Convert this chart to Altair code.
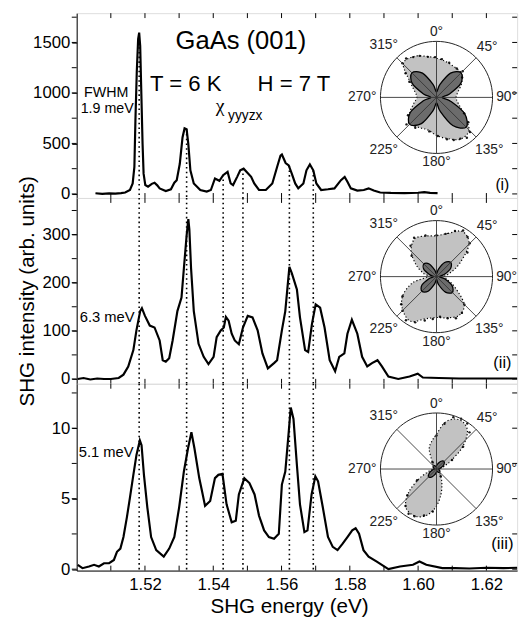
import altair as alt
import pandas as pd

# ---------------- data ----------------
# Panel (i) spectrum
E1 = [1.5055, 1.5075, 1.5095, 1.5113, 1.5130, 1.5142, 1.5156, 1.5164, 1.5169, 1.5172,
      1.5176, 1.5180, 1.5183, 1.5186, 1.5189, 1.5193, 1.5196, 1.5201, 1.5209, 1.5220,
      1.5228, 1.5236, 1.5243, 1.5261, 1.5276, 1.5286, 1.5293, 1.5302, 1.5310, 1.5316,
      1.5322, 1.5327, 1.5333, 1.5343, 1.5362, 1.5381, 1.5393, 1.5405, 1.5418, 1.5429,
      1.5442, 1.5451, 1.5458, 1.5470, 1.5479, 1.5489, 1.5498, 1.5511, 1.5520, 1.5534,
      1.5554, 1.5573, 1.5587, 1.5597, 1.5601, 1.5612, 1.5621, 1.5630, 1.5640, 1.5649,
      1.5664, 1.5673, 1.5683, 1.5693, 1.5702, 1.5716, 1.5736, 1.5755, 1.5774, 1.5785,
      1.5793, 1.5803, 1.5822, 1.5841, 1.5855, 1.5870, 1.5889, 1.5920, 1.5960, 1.6000,
      1.6018, 1.6035, 1.6057]
I1 = [7, 0, 6, 3, 8, 14, 39, 104, 267, 721,
      1207, 1532, 1597, 1467, 1046, 494, 201, 88, 72, 100,
      111, 85, 55, 29, 46, 111, 136, 299, 559, 649,
      640, 494, 234, 104, 39, 23, 39, 153, 130, 185,
      218, 104, 88, 169, 234, 250, 218, 169, 104, 40,
      39, 104, 267, 380, 390, 306, 283, 202, 104, 55,
      104, 234, 292, 234, 104, 39, 46, 55, 136, 169,
      121, 55, 33, 39, 55, 33, 14, 10, 8, 12,
      18, 10, 8]

# Panel (ii) spectrum
E2 = [1.5003, 1.5020, 1.5040, 1.5060, 1.5080, 1.5100, 1.5123, 1.5137, 1.5151, 1.5166,
      1.5175, 1.5186, 1.5191, 1.5200, 1.5214, 1.5228, 1.5243, 1.5252, 1.5261, 1.5271,
      1.5281, 1.5295, 1.5307, 1.5314, 1.5322, 1.5327, 1.5330, 1.5335, 1.5343, 1.5357,
      1.5372, 1.5386, 1.5401, 1.5410, 1.5422, 1.5431, 1.5437, 1.5445, 1.5454, 1.5463,
      1.5475, 1.5487, 1.5501, 1.5515, 1.5530, 1.5544, 1.5560, 1.5578, 1.5587, 1.5601,
      1.5611, 1.5623, 1.5630, 1.5645, 1.5654, 1.5669, 1.5678, 1.5689, 1.5700, 1.5713,
      1.5726, 1.5741, 1.5757, 1.5769, 1.5784, 1.5793, 1.5806, 1.5822, 1.5836, 1.5851,
      1.5865, 1.5881, 1.5894, 1.5913, 1.5942, 1.5975, 1.5999, 1.6014, 1.6061, 1.6120,
      1.6205, 1.6290]
I2 = [0, 2, -1, 1, 0, 0, 2, 9, 26, 60,
      101, 141, 147, 131, 111, 107, 80, 39, 36, 43,
      80, 141, 169, 230, 298, 332, 311, 230, 141, 73,
      46, 31, 46, 87, 101, 107, 129, 121, 94, 80,
      72, 107, 131, 128, 101, 53, 22, 33, 39, 101,
      141, 233, 220, 186, 128, 60, 56, 114, 155, 148,
      107, 39, 16, 46, 53, 94, 123, 94, 46, 26,
      33, 39, 26, 5, 0, 5, 11, 3, 2, 1,
      1, 1]

# Panel (iii) spectrum
E3 = [1.5003, 1.5017, 1.5036, 1.5051, 1.5065, 1.5080, 1.5095, 1.5109, 1.5118, 1.5128,
      1.5137, 1.5147, 1.5156, 1.5166, 1.5175, 1.5185, 1.5190, 1.5197, 1.5207, 1.5218,
      1.5233, 1.5255, 1.5271, 1.5286, 1.5300, 1.5314, 1.5326, 1.5336, 1.5345, 1.5359,
      1.5367, 1.5376, 1.5391, 1.5405, 1.5415, 1.5427, 1.5439, 1.5454, 1.5466, 1.5475,
      1.5491, 1.5506, 1.5521, 1.5534, 1.5549, 1.5563, 1.5578, 1.5592, 1.5601, 1.5611,
      1.5621, 1.5627, 1.5635, 1.5645, 1.5654, 1.5667, 1.5676, 1.5688, 1.5699, 1.5707,
      1.5721, 1.5736, 1.5750, 1.5764, 1.5779, 1.5793, 1.5807, 1.5817, 1.5827, 1.5840,
      1.5855, 1.5879, 1.5913, 1.5947, 1.5985, 1.6004, 1.6024, 1.6071, 1.6109, 1.6150,
      1.6200, 1.6250, 1.6290]
I3 = [0.30, 0.07, 0.19, 0.31, 0.19, 0.42, 0.42, 0.65, 1.23, 1.46,
      2.28, 3.67, 5.07, 6.69, 8.09, 9.13, 8.79, 6.69, 4.37, 2.28,
      1.35, 0.89, 1.46, 2.28, 4.37, 6.93, 8.56, 9.72, 8.56, 6.46,
      5.54, 4.49, 4.84, 6.46, 6.69, 6.76, 4.60, 3.33, 3.44, 5.30,
      6.46, 6.11, 5.30, 3.80, 2.75, 2.28, 2.16, 2.51, 6.00, 6.93,
      9.72, 11.46, 10.65, 7.39, 4.60, 2.63, 2.75, 5.30, 6.58, 6.23,
      4.37, 2.28, 1.58, 1.35, 1.81, 2.28, 2.75, 2.90, 2.51, 1.35,
      0.89, 0.54, 0.00, 0.19, 0.31, 0.54, 0.31, 0.07, 0.07, 0.05,
      0.10, 0.07, 0.10]

# dotted reference lines (energies) and how high they reach in panel (i)
dotted_E = [1.5183, 1.5322, 1.5429, 1.5487, 1.5623, 1.5693]
dotted_top_i = [1500, 640, 190, 250, 280, 234]

# axis ticks / labels
x_minor = [1.51, 1.52, 1.53, 1.54, 1.55, 1.56, 1.57, 1.58, 1.59, 1.60, 1.61, 1.62]
x_labels = [1.52, 1.54, 1.56, 1.58, 1.60, 1.62]
y_ticks_i = [0, 250, 500, 750, 1000, 1250, 1500, 1750]
y_labels_i = [0, 500, 1000, 1500]
y_ticks_ii = [0, 50, 100, 150, 200, 250, 300, 350]
y_labels_ii = [0, 100, 200, 300]
y_ticks_iii = [0, 2.5, 5, 7.5, 10, 12.5]
y_labels_iii = [0, 5, 10]

# polar insets: angle (deg, clockwise from top) and relative radius
ang15 = [0, 15, 30, 45, 60, 75, 90, 105, 120, 135, 150, 165,
         180, 195, 210, 225, 240, 255, 270, 285, 300, 315, 330, 345]
light_i = [0.70, 0.66, 0.63, 0.62, 0.52, 0.40, 0.35, 0.40, 0.55, 0.82, 0.86, 0.76,
           0.68, 0.60, 0.62, 0.66, 0.55, 0.42, 0.35, 0.40, 0.54, 0.84, 0.84, 0.76]
dark_i = [0.10, 0.24, 0.50, 0.62, 0.50, 0.24, 0.10, 0.26, 0.58, 0.75, 0.58, 0.26,
          0.10, 0.25, 0.54, 0.68, 0.54, 0.25, 0.10, 0.24, 0.50, 0.62, 0.50, 0.24]
pts_i_a = [300, 308, 315, 322, 330, 338, 348, 358, 8, 20, 35, 45, 52,
           120, 128, 136, 143, 150, 158, 166, 178, 192, 215, 228, 238]
pts_i_r = [0.56, 0.70, 0.86, 0.88, 0.83, 0.80, 0.74, 0.72, 0.69, 0.66, 0.63, 0.66, 0.58,
           0.57, 0.72, 0.86, 0.90, 0.85, 0.82, 0.77, 0.69, 0.62, 0.66, 0.72, 0.60]

light_ii = [0.73, 0.80, 0.93, 0.82, 0.48, 0.25, 0.14, 0.20, 0.38, 0.70, 0.80, 0.76,
            0.73, 0.78, 0.92, 0.85, 0.70, 0.45, 0.16, 0.25, 0.42, 0.64, 0.78, 0.75]
dark_ii = [0.05, 0.14, 0.29, 0.36, 0.29, 0.14, 0.05, 0.15, 0.32, 0.40, 0.32, 0.15,
           0.05, 0.14, 0.30, 0.37, 0.30, 0.14, 0.05, 0.12, 0.26, 0.32, 0.26, 0.12]
pts_ii_a = [310, 320, 330, 345, 0, 12, 22, 30, 38, 45, 52,
            135, 145, 155, 165, 175, 185, 195, 205, 215, 225, 232, 240]
pts_ii_r = [0.58, 0.72, 0.80, 0.76, 0.74, 0.78, 0.88, 0.95, 0.90, 0.84, 0.70,
            0.70, 0.79, 0.82, 0.77, 0.72, 0.76, 0.81, 0.90, 0.95, 0.86, 0.80, 0.70]

ang10 = list(range(0, 360, 10))
light_iii = [0.62, 0.84, 0.95, 0.96, 0.86, 0.60, 0.30, 0.15, 0.08, 0.06, 0.05, 0.05,
             0.05, 0.06, 0.09, 0.16, 0.28, 0.46, 0.66, 0.82, 0.91, 0.92, 0.86, 0.65,
             0.38, 0.18, 0.09, 0.06, 0.05, 0.05, 0.05, 0.06, 0.09, 0.16, 0.38, 0.50]
dark_iii = [0.06, 0.10, 0.16, 0.19, 0.15, 0.08, 0.04, 0.05, 0.07, 0.08, 0.07, 0.05,
            0.05, 0.10, 0.16, 0.20, 0.15, 0.08, 0.04, 0.05, 0.07, 0.08, 0.07, 0.05]
pts_iii_a = [0, 10, 18, 26, 34, 42, 50, 60, 185, 195, 205, 212, 220, 228, 240, 150, 330]
pts_iii_r = [0.60, 0.82, 0.97, 1.00, 0.98, 0.88, 0.62, 0.32, 0.76, 0.86, 0.93, 0.94, 0.86,
             0.70, 0.40, 0.15, 0.14]

grid_angles = [0, 45, 90, 135]
label_angles = [0, 45, 90, 135, 180, 225, 270, 315]
label_texts = ["0°", "45°", "90°", "135°", "180°", "225°", "270°", "315°"]

# ---------------- layout / style ----------------
W = 448
H = [188, 189, 190]
XDOM = [1.5, 1.629]
YDOM = [[-40, 1790], [-10, 376], [-0.1, 13.15]]
CX, R = 366, 57
CY = [85.7, 80, 86.7]
FONT = "Liberation Sans"
LIGHT = "#c2c2c2"
DARK = "#6c6c6c"


def txt(s, x, y, size, align="center", font=FONT):
    return alt.Chart(pd.DataFrame({"k": [0]})).mark_text(
        text=s, align=align, baseline="alphabetic", fontSize=size, font=font, color="black"
    ).encode(x=alt.value(x), y=alt.value(y))


def spectrum(k, E, I, yticks, ylabels, ytitle=None, bottom=False, dotted_top=None):
    h = H[k]
    xs = alt.Scale(domain=XDOM, nice=False, zero=False)
    ys = alt.Scale(domain=YDOM[k], nice=False, zero=False)
    if bottom:
        xaxis = alt.Axis(values=x_labels, format=".2f", ticks=False, tickSize=0, labelPadding=6,
                         labelFontSize=17, labelFont=FONT, labelColor="black", domainColor="black",
                         grid=False, title="SHG energy (eV)", titleFontSize=21, titleFont=FONT,
                         titleFontWeight="normal", titleColor="black", titleX=216, titleY=43,
                         titleBaseline="alphabetic")
    else:
        xaxis = None
    ykw = dict(values=ylabels, format=".5~g", tickSize=5, tickColor="black", domainColor="black",
               labelFontSize=17, labelFont=FONT, labelColor="black", labelPadding=2, grid=False)
    if ytitle:
        ykw.update(title=ytitle, titleX=-44, titleY=h / 2, titleAngle=270, titleAlign="center",
                   titleBaseline="alphabetic", titleFontSize=21, titleFont=FONT,
                   titleFontWeight="normal", titleColor="black")
    else:
        ykw["title"] = None

    line = alt.Chart(pd.DataFrame({"E": E, "I": I})).mark_line(
        color="black", strokeWidth=2.2
    ).encode(x=alt.X("E:Q", scale=xs, axis=xaxis), y=alt.Y("I:Q", scale=ys, axis=alt.Axis(**ykw)))

    if dotted_top is not None:
        dots = alt.Chart(pd.DataFrame({"E": dotted_E, "top": dotted_top})).mark_rule(
            color="black", strokeWidth=1.6, strokeDash=[1.6, 3.2]
        ).encode(x=alt.X("E:Q", scale=xs, axis=None), y=alt.Y("top:Q", scale=ys, axis=None),
                 y2=alt.value(h))
    else:
        dots = alt.Chart(pd.DataFrame({"E": dotted_E})).mark_rule(
            color="black", strokeWidth=1.6, strokeDash=[1.6, 3.2]
        ).encode(x=alt.X("E:Q", scale=xs, axis=None), y=alt.value(0), y2=alt.value(h))

    xt = pd.DataFrame({"E": x_minor})
    tick_b = alt.Chart(xt).mark_rule(color="black", strokeWidth=1).encode(
        x=alt.X("E:Q", scale=xs, axis=None), y=alt.value(h - 5), y2=alt.value(h))
    tick_t = alt.Chart(xt).mark_rule(color="black", strokeWidth=1).encode(
        x=alt.X("E:Q", scale=xs, axis=None), y=alt.value(0), y2=alt.value(5))
    yt = pd.DataFrame({"v": yticks})
    tick_r = alt.Chart(yt).mark_rule(color="black", strokeWidth=1).encode(
        y=alt.Y("v:Q", scale=ys, axis=None), x=alt.value(W - 5), x2=alt.value(W))
    tick_l = alt.Chart(yt).mark_rule(color="black", strokeWidth=1).encode(
        y=alt.Y("v:Q", scale=ys, axis=None), x=alt.value(-5), x2=alt.value(0))

    return [line, dots, tick_b, tick_t, tick_r, tick_l]


def polar(k, ang_l, light, ang_d, dark, pa, pr):
    h = H[k]
    cy = CY[k]
    xs = alt.Scale(domain=[-CX / R, (W - CX) / R], nice=False, zero=False)
    ys = alt.Scale(domain=[-(h - cy) / R, cy / R], nice=False, zero=False)
    enc = dict(x=alt.X("px:Q", scale=xs, axis=None), y=alt.Y("py:Q", scale=ys, axis=None))
    calc = dict(px="datum.r*sin(datum.a*PI/180)", py="datum.r*cos(datum.a*PI/180)")

    light_m = alt.Chart(pd.DataFrame({"a": ang_l, "r": light})).transform_calculate(**calc).mark_line(
        fill=LIGHT, stroke="black", strokeWidth=1.2, strokeDash=[1.2, 2.2], interpolate="cardinal-closed"
    ).encode(order="a:Q", **enc)
    dark_m = alt.Chart(pd.DataFrame({"a": ang_d, "r": dark})).transform_calculate(**calc).mark_line(
        fill=DARK, stroke="black", strokeWidth=1.3, interpolate="cardinal-closed"
    ).encode(order="a:Q", **enc)
    pts = alt.Chart(pd.DataFrame({"a": pa, "r": pr})).transform_calculate(**calc).mark_circle(
        size=6, color="black", opacity=0.9
    ).encode(**enc)
    circle = alt.Chart(alt.sequence(0, 364, 4, as_="a")).transform_calculate(
        r="1", **calc
    ).mark_line(color="#222222", strokeWidth=1).encode(order="a:Q", **enc)
    diam = alt.Chart(pd.DataFrame({"a": grid_angles})).transform_calculate(
        x1="sin(datum.a*PI/180)", y1="cos(datum.a*PI/180)",
        x2="-sin(datum.a*PI/180)", y2="-cos(datum.a*PI/180)"
    ).mark_rule(color="#333333", strokeWidth=0.9).encode(
        x=alt.X("x1:Q", scale=xs, axis=None), y=alt.Y("y1:Q", scale=ys, axis=None),
        x2="x2:Q", y2="y2:Q")
    labs = alt.Chart(pd.DataFrame({"a": label_angles, "lab": label_texts})).transform_calculate(
        r=f"1.03 + (length(datum.lab)*4.2*abs(sin(datum.a*PI/180)) + 7.5*abs(cos(datum.a*PI/180)))/{R}",
        **calc
    ).mark_text(fontSize=14, font=FONT, align="center", baseline="middle", color="#222222").encode(
        text="lab:N", **enc)
    return [light_m, dark_m, pts, circle, diam, labs]


texts_i = [
    txt("GaAs (001)", 167, 36, 26),
    txt("T = 6 K", 111, 79, 22.5),
    txt("H = 7 T", 221, 79, 22.5),
    txt("FWHM", 30, 85, 14.5),
    txt("1.9 meV", 31, 102, 14.5),
    txt("χ", 146, 101, 20, font="Liberation Serif"),
    txt("yyyzx", 154, 109, 14, align="left"),
    txt("(i)", 433, 180, 16),
]
texts_ii = [
    txt("6.3 meV", 31, 126, 15),
    txt("(ii)", 433, 173, 16.5),
]
texts_iii = [
    txt("5.1 meV", 30, 74, 15),
    txt("(iii)", 433, 168, 17),
]

layers = [
    spectrum(0, E1, I1, y_ticks_i, y_labels_i, dotted_top=dotted_top_i)
    + polar(0, ang15, light_i, ang15, dark_i, pts_i_a, pts_i_r) + texts_i,
    spectrum(1, E2, I2, y_ticks_ii, y_labels_ii, ytitle="SHG intensity (arb. units)")
    + polar(1, ang15, light_ii, ang15, dark_ii, pts_ii_a, pts_ii_r) + texts_ii,
    spectrum(2, E3, I3, y_ticks_iii, y_labels_iii, bottom=True)
    + polar(2, ang10, light_iii, ang15, dark_iii, pts_iii_a, pts_iii_r) + texts_iii,
]

panels = []
for k, lay in enumerate(layers):
    panels.append(
        alt.layer(*lay).resolve_scale(x="independent", y="independent").properties(width=W, height=H[k])
    )

chart = alt.vconcat(*panels, spacing=0, bounds="flush").properties(
    padding={"left": 16, "top": 7, "right": 2, "bottom": 3},
    background="white",
).configure_view(stroke="black", strokeWidth=1).configure(font=FONT)

chart.save("out.html", embed_options={"renderer": "svg", "actions": False})
